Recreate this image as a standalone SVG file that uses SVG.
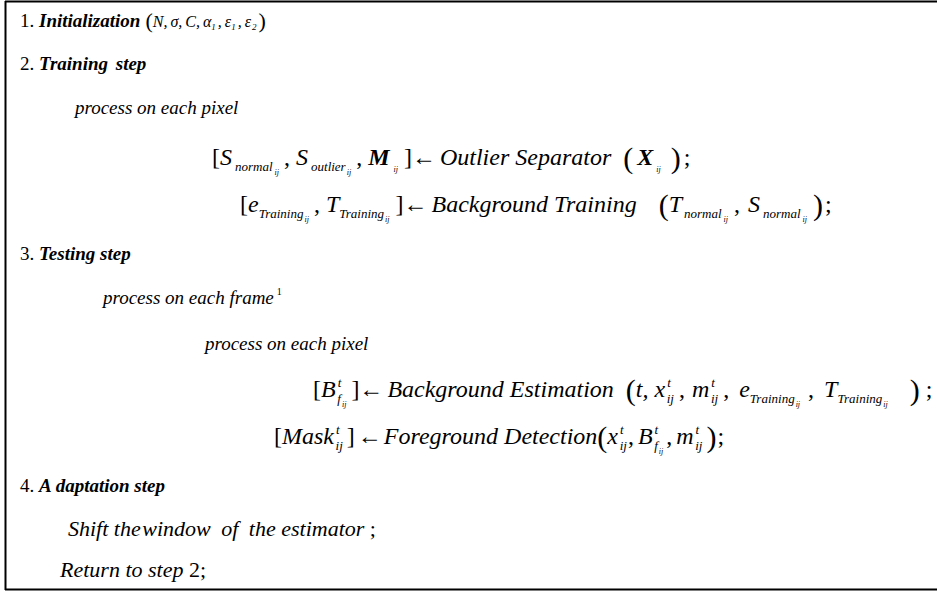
<svg xmlns="http://www.w3.org/2000/svg" width="937" height="592" viewBox="0 0 937 592">
<style>
text{font-family:"Liberation Serif","Times New Roman",serif;font-size:19px;fill:#000}
.eq{font-size:24px}
.big{font-size:22px}
.it{font-style:italic}
.bi{font-style:italic;font-weight:bold}
.sb{font-style:italic;font-size:13px}
.ss{font-style:italic;font-size:8px}
.s1{font-style:italic;font-size:9px}
.su{font-size:10px;font-style:normal}
.pr{font-size:30px;font-style:normal;font-weight:normal}
.pr1{font-size:22px;font-style:normal;font-weight:normal}
.pa{font-size:16px;font-style:italic}
.frame{fill:none;stroke:#000;stroke-width:2}
</style>
<rect width="937" height="592" fill="#fff"/>
<g id="frame"><path class="frame" d="M5,1.5 H937 M5.5,1 V590 M5,589.5 H937"/></g>
<g id="step1">
<text x="20" y="27">1. <tspan class="bi">Initialization</tspan><tspan class="pr1" dx="5" y="28">(</tspan><tspan class="pa" y="27">N,</tspan><tspan class="pa" dx="3">σ,</tspan><tspan class="pa" dx="3">C,</tspan><tspan class="pa" dx="3">α</tspan><tspan class="s1" y="30">1</tspan><tspan class="pa" dx="2" y="27">,</tspan><tspan class="pa" dx="3">ε</tspan><tspan class="s1" y="30">1</tspan><tspan class="pa" dx="2" y="27">,</tspan><tspan class="pa" dx="3">ε</tspan><tspan class="s1" dx="1" y="30">2</tspan><tspan class="pr1" dx="2" y="28">)</tspan></text>
</g>
<g id="step2">
<text x="20" y="70">2. <tspan class="bi">Training <tspan dx="3">step</tspan></tspan></text>
<text class="it" x="75" y="114">process on each pixel</text>
<text class="eq" x="212" y="165">[<tspan class="it">S</tspan><tspan class="sb" dx="3" y="171">normal</tspan><tspan class="ss" dx="2" y="175">ij</tspan><tspan dx="5" y="165">,</tspan><tspan class="it" dx="6">S</tspan><tspan class="sb" dx="3" y="171">outlier</tspan><tspan class="ss" dx="1" y="175">ij</tspan><tspan dx="5" y="165">,</tspan><tspan class="bi" dx="6">M</tspan><tspan class="ss" dx="4" y="172">ij</tspan><tspan dx="6" y="165">]←</tspan><tspan class="it" dx="4">Outlier Separator</tspan><tspan class="pr" dx="12" y="168">(</tspan><tspan class="bi" dx="4" y="165">X</tspan><tspan class="ss" dx="3" y="172">ij</tspan><tspan class="pr" dx="10" y="168">)</tspan><tspan dx="3" y="165">;</tspan></text>
<text class="eq" x="240" y="212">[<tspan class="it">e</tspan><tspan class="sb" y="218">Training</tspan><tspan class="ss" dx="1" y="222">ij</tspan><tspan dx="5" y="212">,</tspan><tspan class="it" dx="6">T</tspan><tspan class="sb" y="218">Training</tspan><tspan class="ss" dx="1" y="222">ij</tspan><tspan dx="6" y="212">]←</tspan><tspan class="it" dx="4">Background Training</tspan><tspan class="pr" dx="22" y="215">(</tspan><tspan class="it" y="212">T</tspan><tspan class="sb" dx="2" y="218">normal</tspan><tspan class="ss" dx="2" y="222">ij</tspan><tspan dx="6" y="212">,</tspan><tspan class="it" dx="8">S</tspan><tspan class="sb" dx="3" y="218">normal</tspan><tspan class="ss" dx="2" y="222">ij</tspan><tspan class="pr" dx="6" y="215">)</tspan><tspan dx="2" y="212">;</tspan></text>
</g>
<g id="step3">
<text x="20" y="260">3. <tspan class="bi">Testing step</tspan></text>
<text class="it" x="103" y="304">process on each frame<tspan class="su" dx="3" y="295">1</tspan></text>
<text class="it" x="205" y="350">process on each pixel</text>
<text class="eq" x="313" y="397">[<tspan class="it">B</tspan><tspan class="sb" dx="2" y="387">t</tspan><tspan class="sb" dx="-4" y="403">f</tspan><tspan class="ss" dx="1" y="407">ij</tspan><tspan dx="5" y="397">]←</tspan><tspan class="it" dx="4">Background Estimation</tspan><tspan class="pr" dx="12" y="400">(</tspan><tspan class="it" y="397">t, x</tspan><tspan class="sb" dx="2" y="387">t</tspan><tspan class="sb" dx="-4" y="403">ij</tspan><tspan dx="5" y="397">,</tspan><tspan class="it" dx="7">m</tspan><tspan class="sb" dx="2" y="387">t</tspan><tspan class="sb" dx="-4" y="403">ij</tspan><tspan dx="5" y="397">,</tspan><tspan class="it" dx="10">e</tspan><tspan class="sb" y="403">Training</tspan><tspan class="ss" dx="1" y="407">ij</tspan><tspan dx="8" y="397">,</tspan><tspan class="it" dx="10">T</tspan><tspan class="sb" y="403">Training</tspan><tspan class="ss" dx="1" y="407">ij</tspan><tspan class="pr" dx="22" y="400">)</tspan><tspan dx="6" y="397">;</tspan></text>
<text class="eq" x="274" y="444">[<tspan class="it">Mask</tspan><tspan class="sb" dx="2" y="434">t</tspan><tspan class="sb" dx="-4" y="450">ij</tspan><tspan dx="4" y="444">]</tspan><tspan dx="3">←</tspan><tspan class="it" dx="2">Foreground Detection</tspan><tspan class="pr" y="447">(</tspan><tspan class="it" y="444">x</tspan><tspan class="sb" dx="2" y="434">t</tspan><tspan class="sb" dx="-4" y="450">ij</tspan><tspan dx="1" y="444">,</tspan><tspan class="it" dx="4">B</tspan><tspan class="sb" dx="2" y="434">t</tspan><tspan class="sb" dx="-4" y="450">f</tspan><tspan class="ss" dx="1" y="454">ij</tspan><tspan dx="3" y="444">,</tspan><tspan class="it" dx="4">m</tspan><tspan class="sb" dx="2" y="434">t</tspan><tspan class="sb" dx="-4" y="450">ij</tspan><tspan class="pr" dx="4" y="447">)</tspan><tspan dx="1" y="444">;</tspan></text>
</g>
<g id="step4">
<text x="20" y="492">4. <tspan class="bi">A</tspan><tspan class="bi" dx="4">daptation step</tspan></text>
<text class="big it" x="68" y="536">Shift the <tspan dx="-4">window</tspan> <tspan dx="5">of</tspan> <tspan dx="5">the estimator</tspan> <tspan style="font-style:normal">;</tspan></text>
<text class="big it" x="60" y="577">Return to step <tspan style="font-style:normal">2;</tspan></text>
</g>
</svg>
